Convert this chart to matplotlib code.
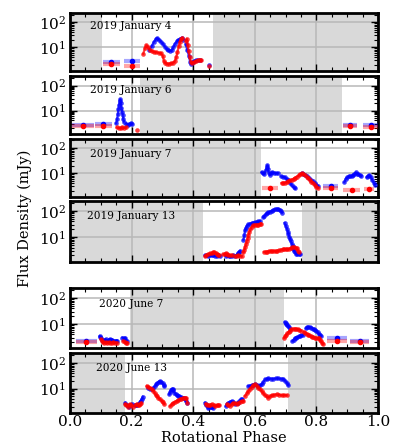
import numpy as np
import matplotlib
matplotlib.use("Agg")
import matplotlib.pyplot as plt
from matplotlib.ticker import MultipleLocator, LogLocator

nan = np.nan
plt.rcParams['font.family'] = 'DejaVu Serif'
plt.rcParams['mathtext.fontset'] = 'dejavuserif'

# ---------------- data ----------------
panel_labels = ["2019 January 4", "2019 January 6", "2019 January 7",
                "2019 January 13", "2020 June 7", "2020 June 13"]

# unobserved phase ranges (shaded)
jan4_gaps = [(0.0, 0.105), (0.465, 1.0)]
jan6_gaps = [(0.227, 0.883)]
jan7_gaps = [(0.0, 0.62)]
jan13_gaps = [(0.0, 0.432), (0.753, 1.0)]
jun7_gaps = [(0.195, 0.695)]
jun13_gaps = [(0.0, 0.179), (0.708, 1.0)]

# ---- 2019 January 4 ----
jan4_blue_phase = [0.258, 0.265, 0.272, 0.278, 0.284, 0.290, 0.297, 0.303, 0.308, 0.314, 0.319, 0.325,
                   0.330, 0.335, 0.341, 0.346, 0.352, 0.357, 0.363, 0.368, nan, 0.376, 0.381, 0.386,
                   0.390, 0.394, 0.398, 0.404, 0.410, 0.416, 0.422, nan, 0.451]
jan4_blue_flux = [8, 11, 16, 21, 23, 20, 16, 13, 10.5, 8.5, 7.5, 7,
                  7.5, 10, 14, 17, 20, 22, 24, 20, nan, 13, 7.5, 4.5,
                  2.6, 2.2, 2.6, 2.9, 3.1, 3.0, 3.0, nan, 1.9]
jan4_red_phase = [0.238, 0.243, 0.248, 0.253, 0.259, 0.265, 0.272, 0.280, 0.288, 0.296, 0.301, 0.305,
                  0.310, 0.316, 0.322, 0.328, 0.334, 0.340, 0.345, 0.349, 0.353, 0.357, 0.361, 0.365,
                  nan, 0.376, 0.379, 0.382, 0.385, 0.388, 0.392, 0.397, 0.403, 0.409, 0.415, 0.421,
                  0.425, nan, 0.451]
jan4_red_flux = [5.5, 9, 12, 10, 8, 7.2, 6.5, 6.3, 6.0, 5.8, 4.5, 2.8,
                 2.3, 2.2, 2.2, 2.3, 2.4, 2.7, 4, 6.5, 11, 16, 22, 24,
                 nan, 18, 22, 12, 7, 4, 2.6, 2.3, 2.6, 2.9, 3.1, 3.2,
                 3.0, nan, 1.85]
jan4_bin_phase = [0.134, 0.201]
jan4_bin_width = [0.027, 0.026]
jan4_bin_blue = [2.45, 2.85]
jan4_bin_red = [2.15, 1.85]

# ---- 2019 January 6 ----
jan6_blue_phase = [0.150, 0.153, 0.155, 0.157, 0.159, 0.161, 0.163, 0.165, 0.167, 0.169, 0.171, 0.173,
                   0.175, nan, 0.183, 0.188, 0.192, 0.197, 0.200]
jan6_blue_flux = [3.1, 4.5, 7, 11, 17, 25, 28, 20, 13, 9, 6.5, 4.5,
                  3.6, nan, 3.0, 2.7, 2.9, 3.1, 3.0]
jan6_red_phase = [0.152, 0.158, 0.164, 0.170, 0.176, 0.182, nan, 0.218]
jan6_red_flux = [2.1, 2.0, 2.0, 2.1, 2.0, 2.1, nan, 1.7]
jan6_bin_phase = [0.043, 0.108, 0.909, 0.976]
jan6_bin_width = [0.035, 0.027, 0.024, 0.024]
jan6_bin_blue = [2.6, 2.8, 2.6, 2.7]
jan6_bin_red = [2.4, 2.3, 2.3, 2.2]

# ---- 2019 January 7 ----
jan7_blue_phase = [0.622, 0.627, 0.631, 0.635, 0.638, 0.641, 0.643, 0.646, 0.649, 0.652, 0.657, 0.662,
                   0.668, 0.674, nan, 0.686, 0.692, 0.698, 0.703, 0.709, 0.714, 0.720, 0.726, 0.731,
                   nan, 0.752, 0.758, 0.764, 0.770, 0.776, 0.782, 0.788, 0.794, 0.800, 0.806, nan,
                   0.891, 0.895, 0.900, 0.905, 0.910, 0.914, 0.919, 0.923, 0.928, 0.932, 0.936, 0.941,
                   0.945, nan, 0.963, 0.968, 0.972, 0.977, 0.981, 0.986, 0.990]
jan7_blue_flux = [11, 10, 9.4, 13, 17, 21, 15, 10, 8.6, 10, 11, 10.5,
                  10, 10.2, nan, 7.6, 7.2, 7, 6, 5.2, 4.2, 3.3, 2.8, 2.5,
                  nan, 10, 9.5, 8.5, 7.5, 6.6, 5.5, 4.8, 4.2, 3.6, 3.0, nan,
                  4.5, 6, 7, 7.6, 7.5, 8, 8.5, 9.4, 10.9, 9.5, 9.4, 8.5,
                  8, nan, 7, 7.8, 8.6, 7, 5.5, 4.3, 3.6]
jan7_red_phase = [0.687, 0.692, 0.697, 0.703, 0.709, 0.715, 0.720, 0.726, 0.731, 0.736, 0.742, 0.747,
                  0.752, 0.757, 0.762, 0.768, 0.774, 0.779, 0.784, 0.790, 0.795, 0.800, 0.806]
jan7_red_flux = [4.1, 4.2, 4.3, 4.5, 4.9, 5.3, 5.6, 6.2, 6.8, 7.4, 8.3, 9.2,
                 10, 9.6, 8.6, 7.4, 6.4, 5.5, 4.7, 4.0, 3.3, 2.9, 2.6]
jan7_binb_phase = [0.847]
jan7_binb_width = [0.024]
jan7_bin_blue = [3.1]
jan7_binr_phase = [0.649, 0.847, 0.914, 0.972]
jan7_binr_width = [0.026, 0.024, 0.027, 0.016]
jan7_bin_red = [2.7, 2.6, 2.2, 2.4]

# ---- 2019 January 13 ----
jan13_blue_phase = [0.438, 0.444, 0.449, 0.455, 0.460, 0.465, 0.471, 0.476, 0.482, 0.487, nan,
                    0.505, 0.510, 0.515, 0.520, 0.525, 0.530, 0.536, 0.541, 0.544, 0.548, 0.552, nan,
                    0.563, 0.566, 0.568, 0.571, 0.574, 0.579, 0.584, 0.590, 0.595, 0.601, 0.606, 0.611,
                    0.617, nan, 0.628, 0.631, 0.635, 0.639, 0.644, 0.649, 0.655, 0.660, 0.666, 0.671,
                    0.676, 0.682, 0.686, 0.689, nan, 0.697, 0.700, 0.704, 0.707, 0.709, 0.712, 0.714,
                    0.717, 0.720, 0.723, 0.725, 0.728, 0.731, 0.734, 0.738, 0.742, 0.747]
jan13_blue_flux = [2.0, 2.1, 1.9, 2.0, 2.0, 2.0, 1.9, 1.9, 2.0, 1.9, nan,
                   1.9, 2.0, 1.9, 1.9, 1.9, 2.0, 1.9, 2.1, 2.4, 2.7, 3.0, nan,
                   8, 11.6, 18, 23, 27, 31, 33, 35, 36, 37, 38, 40,
                   41, nan, 58, 66, 75, 82, 88, 95, 103, 111, 118, 122,
                   118, 111, 98, 87, nan, 35, 27, 21, 16, 13.5, 10.5, 8.6,
                   7, 5.5, 4.4, 3.5, 3.0, 2.6, 2.3, 2.2, 2.2, 2.3]
jan13_red_phase = [0.438, 0.443, 0.449, 0.454, 0.460, 0.465, 0.469, 0.473, 0.476, 0.480, 0.484, nan,
                   0.498, 0.502, 0.505, 0.509, 0.514, 0.520, 0.525, nan, 0.536, 0.541, 0.546, 0.551,
                   0.557, nan, 0.563, 0.566, 0.568, 0.571, 0.574, 0.577, 0.579, 0.582, 0.586, 0.590,
                   0.595, 0.601, 0.606, 0.611, 0.616, 0.620, nan, 0.630, 0.636, 0.641, 0.646, 0.652,
                   0.657, 0.662, 0.668, 0.673, 0.679, 0.684, 0.690, 0.695, 0.701, 0.706, 0.712, 0.717,
                   0.722, 0.728, 0.733, 0.736, 0.740, 0.743]
jan13_red_flux = [1.9, 2.1, 2.2, 2.4, 2.4, 2.6, 2.6, 2.4, 2.2, 2.1, 2.0, nan,
                  2.2, 2.3, 2.4, 2.2, 2.0, 2.0, 2.0, nan, 1.9, 1.95, 2.0, 1.95,
                  1.9, nan, 2.6, 3.3, 4.1, 5.5, 7.4, 9.5, 11.6, 15.7, 20, 24.6,
                  28, 30, 30, 30, 31, 33, nan, 2.7, 2.8, 2.8, 2.9, 3.0,
                  2.9, 3.0, 2.9, 3.0, 3.1, 3.3, 3.4, 3.5, 3.5, 3.5, 3.6, 3.9,
                  4.1, 4.3, 4.0, 3.7, 3.0, 2.6]

# ---- 2020 June 7 ----
jun7_blue_phase = [0.096, 0.099, 0.102, 0.105, 0.108, 0.112, 0.116, 0.121, 0.125, 0.129, 0.133, 0.137,
                   0.141, 0.145, 0.149, 0.153, nan, 0.170, 0.175, 0.180, 0.185, nan,
                   0.697, 0.700, 0.702, 0.705, 0.708, 0.711, 0.713, nan, 0.722, 0.726, 0.729, 0.733,
                   0.738, 0.742, 0.746, 0.751, 0.756, nan, 0.766, 0.770, 0.774, 0.779, 0.784, 0.788,
                   0.792, 0.796, 0.800, 0.804, 0.807, 0.811, 0.814]
jun7_blue_flux = [3.4, 3.1, 2.8, 2.4, 2.2, 2.5, 2.6, 2.3, 2.5, 2.6, 2.5, 2.5,
                  2.3, 2.2, 2.3, 2.3, nan, 3.0, 2.8, 2.8, 2.3, nan,
                  11.9, 11, 10.3, 9.4, 8.4, 7.5, 6.7, nan, 2.2, 2.5, 2.8, 3.0,
                  3.1, 3.3, 3.4, 3.6, 3.7, nan, 6.8, 7.5, 7.8, 7.6, 7.2, 6.6,
                  6.2, 5.8, 5.4, 4.8, 4.2, 3.8, 3.4]
jun7_red_phase = [0.100, 0.103, 0.107, 0.111, 0.116, 0.121, 0.126, 0.131, 0.136, 0.141, 0.146, 0.151,
                  nan, 0.172, 0.177, 0.182, 0.186, nan, 0.695, 0.699, 0.702, 0.706, 0.710, 0.714,
                  0.718, 0.723, 0.729, 0.734, 0.740, 0.745, 0.751, nan, 0.760, 0.764, 0.768, 0.773,
                  0.777, 0.782, 0.786, 0.790, 0.795, 0.800, 0.804, 0.807, 0.811, 0.814, 0.818, 0.821]
jun7_red_flux = [2.6, 2.3, 2.0, 1.9, 2.0, 1.9, 2.0, 1.9, 1.9, 2.0, 1.9, 1.9,
                 nan, 2.2, 2.0, 1.9, 1.9, nan, 2.9, 3.4, 3.9, 4.4, 5.0, 5.6,
                 6.2, 6.5, 6.7, 6.5, 6.2, 5.9, 5.6, nan, 5.0, 4.6, 4.2, 3.9,
                 3.6, 3.4, 3.2, 3.1, 3.0, 2.8, 2.8, 2.9, 2.5, 2.2, 1.9, 1.7]
jun7_bin_phase = [0.053, 0.868, 0.940]
jun7_bin_width = [0.034, 0.032, 0.031]
jun7_bin_blue = [2.3, 2.9, 2.3]
jun7_bin_red = [2.1, 2.2, 1.95]

# ---- 2020 June 13 ----
jun13_blue_phase = [0.179, 0.184, 0.188, 0.193, 0.197, 0.200, nan, 0.210, 0.214, 0.218, 0.222, 0.226,
                    0.229, 0.233, 0.236, nan, 0.254, 0.259, 0.265, 0.270, 0.276, 0.280, 0.284, 0.288,
                    0.292, 0.297, 0.301, 0.304, 0.306, nan, 0.322, 0.325, 0.327, 0.330, 0.333, 0.336,
                    0.339, 0.343, 0.346, 0.350, 0.355, 0.360, 0.366, 0.370, 0.373, 0.376, 0.379, nan,
                    0.438, 0.441, 0.444, 0.447, 0.449, 0.453, 0.457, 0.461, 0.465, nan,
                    0.506, 0.510, 0.514, 0.519, 0.525, 0.530, 0.536, 0.541, 0.546, 0.550, 0.554, 0.560,
                    nan, 0.579, 0.584, 0.590, 0.595, 0.601, 0.606, 0.611, 0.617, 0.622, 0.627, 0.633,
                    0.638, 0.644, 0.652, 0.660, 0.668, 0.676, 0.685, 0.693, 0.699, 0.704, 0.709]
jun13_blue_flux = [2.85, 2.2, 2.1, 2.0, 2.3, 2.5, nan, 2.3, 2.2, 2.4, 2.5, 2.9,
                   3.3, 4.0, 4.9, nan, 10.9, 10, 9.4, 11, 12.7, 15, 17, 19,
                   20, 18, 16, 14, 12.7, nan, 6.0, 7.5, 8.9, 9.5, 10, 8.5,
                   7.0, 6.2, 5.5, 5.3, 5.2, 4.8, 4.5, 4.2, 3.8, 3.3, 2.85, nan,
                   2.85, 2.4, 2.2, 1.9, 1.8, 1.9, 2.0, 1.9, 1.8, nan,
                   2.1, 2.5, 2.85, 3.1, 3.3, 2.9, 2.5, 2.7, 2.85, 3.3, 3.8, 3.8,
                   nan, 12.7, 13, 13.5, 14, 14.7, 13.5, 12.7, 13.5, 14.7, 18, 23,
                   24, 25, 24.5, 24.5, 25, 25, 24.5, 24.5, 20, 17, 13.5]
jun13_red_phase = [0.179, 0.183, 0.187, 0.191, 0.195, 0.199, 0.203, nan, 0.212, 0.216, 0.220, 0.224,
                   0.228, 0.231, nan, 0.249, 0.254, 0.260, 0.265, 0.271, 0.275, 0.279, 0.283, 0.287,
                   0.292, 0.298, 0.302, 0.306, nan, 0.325, 0.330, 0.336, 0.341, 0.346, 0.352, 0.357,
                   0.362, 0.368, 0.373, 0.377, 0.381, nan, 0.440, 0.445, 0.450, 0.455, 0.460, 0.466,
                   0.471, 0.476, 0.481, 0.485, nan, 0.509, 0.514, 0.519, 0.525, 0.530, 0.536, 0.541,
                   0.546, 0.552, 0.557, 0.563, nan, 0.568, 0.574, 0.579, 0.584, 0.590, 0.595, 0.601,
                   0.606, 0.611, 0.617, 0.622, 0.627, 0.633, 0.638, 0.644, 0.650, 0.655, 0.663, 0.671,
                   0.679, 0.687, 0.695, 0.704]
jun13_red_flux = [2.5, 2.2, 2.0, 2.2, 2.5, 2.2, 2.0, nan, 2.3, 2.6, 2.4, 2.2,
                  2.5, 2.8, nan, 12.7, 12, 10.9, 9.5, 8.1, 6.6, 5.5, 5.0, 4.5,
                  3.9, 3.3, 2.9, 2.5, nan, 2.1, 2.5, 2.85, 3.1, 3.3, 3.5, 3.8,
                  4.1, 4.5, 4.5, 4.5, 2.85, nan, 2.6, 2.4, 2.2, 2.3, 2.5, 2.3,
                  2.1, 2.2, 2.3, 2.2, nan, 2.5, 2.3, 2.1, 2.5, 2.85, 2.7, 2.5,
                  2.8, 3.1, 3.2, 3.3, nan, 5.2, 6.5, 8.1, 10, 11.9, 13.5, 14.7,
                  12.5, 10.9, 9.4, 8.1, 6.7, 5.5, 5.0, 4.5, 5.0, 5.5, 5.8, 6.0,
                  5.8, 5.5, 5.6, 5.5]

panels = [
    dict(gaps=jan4_gaps, bx=jan4_blue_phase, by=jan4_blue_flux, rx=jan4_red_phase, ry=jan4_red_flux,
         ebx=jan4_bin_phase, ebw=jan4_bin_width, eby=jan4_bin_blue,
         erx=jan4_bin_phase, erw=jan4_bin_width, ery=jan4_bin_red),
    dict(gaps=jan6_gaps, bx=jan6_blue_phase, by=jan6_blue_flux, rx=jan6_red_phase, ry=jan6_red_flux,
         ebx=jan6_bin_phase, ebw=jan6_bin_width, eby=jan6_bin_blue,
         erx=jan6_bin_phase, erw=jan6_bin_width, ery=jan6_bin_red),
    dict(gaps=jan7_gaps, bx=jan7_blue_phase, by=jan7_blue_flux, rx=jan7_red_phase, ry=jan7_red_flux,
         ebx=jan7_binb_phase, ebw=jan7_binb_width, eby=jan7_bin_blue,
         erx=jan7_binr_phase, erw=jan7_binr_width, ery=jan7_bin_red),
    dict(gaps=jan13_gaps, bx=jan13_blue_phase, by=jan13_blue_flux, rx=jan13_red_phase, ry=jan13_red_flux,
         ebx=[], ebw=[], eby=[], erx=[], erw=[], ery=[]),
    dict(gaps=jun7_gaps, bx=jun7_blue_phase, by=jun7_blue_flux, rx=jun7_red_phase, ry=jun7_red_flux,
         ebx=jun7_bin_phase, ebw=jun7_bin_width, eby=jun7_bin_blue,
         erx=jun7_bin_phase, erw=jun7_bin_width, ery=jun7_bin_red),
    dict(gaps=jun13_gaps, bx=jun13_blue_phase, by=jun13_blue_flux, rx=jun13_red_phase, ry=jun13_red_flux,
         ebx=[], ebw=[], eby=[], erx=[], erw=[], ery=[]),
]

# ---------------- layout ----------------
W, H = 399, 445
fig = plt.figure(figsize=(W / 100, H / 100), dpi=100)
left_px, right_px = 70, 378
panel_px = [(12.7, 70.7), (76, 134), (138.5, 197), (201, 261.7), (288.3, 348.3), (353.3, 412.7)]
label_pos = [(0.065, 0.77), (0.065, 0.76), (0.065, 0.73), (0.054, 0.75), (0.094, 0.74), (0.083, 0.75)]

for i, p in enumerate(panels):
    top, bot = panel_px[i]
    ax = fig.add_axes([left_px / W, 1 - bot / H, (right_px - left_px) / W, (bot - top) / H])
    for a, b in p['gaps']:
        ax.axvspan(a, b, color='#d9d9d9', lw=0, zorder=0.2)
    ax.plot(p['bx'], p['by'], '-o', color='blue', ms=3.3, mew=0, lw=1.6, alpha=0.75, zorder=3)
    ax.plot(p['rx'], p['ry'], '-o', color='red', ms=3.3, mew=0, lw=1.6, alpha=0.75, zorder=4)
    if len(p['ebx']):
        ax.errorbar(p['ebx'], p['eby'], xerr=p['ebw'], fmt='o', ms=3, color='blue',
                    ecolor=(0, 0, 1, 0.35), elinewidth=3, capsize=0, zorder=3)
    if len(p['erx']):
        ax.errorbar(p['erx'], p['ery'], xerr=p['erw'], fmt='o', ms=3, color='red',
                    ecolor=(1, 0, 0, 0.35), elinewidth=3, capsize=0, zorder=4)
    ax.set_yscale('log')
    ax.set_ylim(1.15, 240)
    ax.set_xlim(0, 1)
    ax.set_yticks([10, 100])
    ax.yaxis.set_minor_locator(LogLocator(base=10, subs=np.arange(2, 10)))
    ax.xaxis.set_major_locator(MultipleLocator(0.2))
    ax.xaxis.set_minor_locator(MultipleLocator(0.05))
    ax.set_axisbelow(True)
    ax.grid(True, which='major', color='#b8b8b8', lw=1.1)
    ax.tick_params(which='both', direction='in', top=True, right=True, labelsize=11)
    ax.tick_params(axis='x', pad=2)
    ax.tick_params(axis='y', pad=3)
    ax.tick_params(which='major', length=5, width=1.0)
    ax.tick_params(which='minor', length=3, width=0.8)
    ax.yaxis.set_minor_formatter(plt.NullFormatter())
    for s in ax.spines.values():
        s.set_linewidth(2)
    if i < len(panels) - 1:
        ax.tick_params(labelbottom=False)
    ax.text(label_pos[i][0], label_pos[i][1], panel_labels[i], transform=ax.transAxes,
            fontsize=7.6, va='center', ha='left', zorder=6)

fig.text(25 / W, 1 - 218 / H, "Flux Density (mJy)", rotation=90, ha='center', va='center', fontsize=10.5)
fig.text(224 / W, 1 - 438.5 / H, "Rotational Phase", ha='center', va='center', fontsize=10.5)

fig.savefig("out.png", dpi=100)
